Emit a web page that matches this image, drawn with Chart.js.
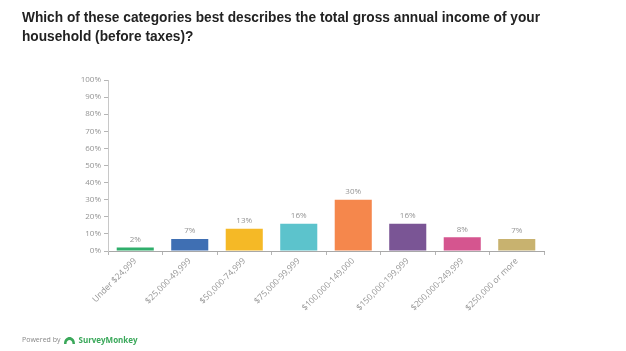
<!DOCTYPE html>
<html>
<head>
<meta charset="utf-8">
<script src="https://cdn.jsdelivr.net/npm/chart.js@4.4.1/dist/chart.umd.min.js"></script>
<style>
  html, body { margin: 0; padding: 0; background: #fff; }
  #wrap { position: relative; width: 626px; height: 351px; overflow: hidden; }
  #chart { position: absolute; left: 0; top: 0; }
  #title {
    position: absolute; left: 22px; top: 7px; width: 640px;
    font: bold 15px "Liberation Sans", Arial, sans-serif;
    line-height: 19px; color: #222;
    transform: scaleX(0.914); transform-origin: left top;
  }
  #footer {
    position: absolute; left: 22px; top: 334px;
    font: 7px "Open Sans", sans-serif; color: #888;
    display: flex; align-items: center;
  }
  #footer .brand { color: #3aa85a; font-weight: bold; font-size: 8px; margin-left: 2px; }
  #footer svg { margin-left: 3px; }
</style>
</head>
<body>
<div id="wrap">
  <canvas id="chart" width="626" height="351"></canvas>
  <div id="title">Which of these categories best describes the total gross annual income of your<br>household (before taxes)?</div>
  <div id="footer">Powered by
    <svg width="13" height="8" viewBox="0 0 13 8"><path d="M1 8 C1 3 4 1 6.5 1 C9 1 12 3 12 8 L9.5 8 C9.5 5 8 4 6.5 4 C5 4 3.5 5 3.5 8 Z" fill="#3aa85a"/></svg>
    <span class="brand">SurveyMonkey</span>
  </div>
</div>
<script>
const categories = [
  "Under $24,999",
  "$25,000-49,999",
  "$50,000-74,999",
  "$75,000-99,999",
  "$100,000-149,000",
  "$150,000-199,999",
  "$200,000-249,999",
  "$250,000 or more",
];
const percents = [2, 7, 13, 16, 30, 16, 8, 7];
const barColors = ["#2fae6b", "#3f6fb3", "#f5b926", "#5cc3cc", "#f5874c", "#7a5595", "#d5558f", "#c8b26f"];
const yTicks = [0, 10, 20, 30, 40, 50, 60, 70, 80, 90, 100];

const AXIS_GREY = "#b5b5b5";
const LABEL_GREY = "#949494";

const valueLabels = {
  id: "valueLabels",
  afterDatasetsDraw(chart) {
    const { ctx } = chart;
    const meta = chart.getDatasetMeta(0);
    ctx.save();
    ctx.font = '8px "Open Sans", sans-serif';
    ctx.fillStyle = LABEL_GREY;
    ctx.textAlign = "center";
    ctx.textBaseline = "bottom";
    meta.data.forEach((bar, i) => {
      ctx.fillText(`${percents[i]}%`, bar.x, bar.y - 4);
    });
    ctx.restore();
  },
};

new Chart(document.getElementById("chart"), {
  type: "bar",
  data: {
    labels: categories,
    datasets: [
      {
        data: percents,
        backgroundColor: barColors,
        borderWidth: 0,
        barPercentage: 0.68,
        categoryPercentage: 1,
      },
    ],
  },
  options: {
    responsive: false,
    animation: false,
    layout: { padding: { left: 0, top: 80, right: 82, bottom: 0 } },
    plugins: {
      legend: { display: false },
      tooltip: { enabled: false },
    },
    scales: {
      x: {
        grid: { drawOnChartArea: false, tickLength: 4, color: AXIS_GREY, offset: true },
        border: { color: "#a8a8a8" },
        ticks: {
          minRotation: 45,
          maxRotation: 45,
          autoSkip: false,
          padding: 1,
          color: LABEL_GREY,
          font: { family: "Open Sans", size: 8.5 },
        },
        afterFit: (scale) => { scale.height = 100; },
      },
      y: {
        min: 0,
        max: 100,
        afterBuildTicks: (scale) => { scale.ticks = yTicks.map((v) => ({ value: v })); },
        grid: { drawOnChartArea: false, tickLength: 4, color: AXIS_GREY },
        border: { color: "#c8c8c8" },
        ticks: {
          padding: 3,
          color: LABEL_GREY,
          font: { family: "Open Sans", size: 8 },
          callback: (v) => `${v}%`,
        },
        afterFit: (scale) => { scale.width = 108; },
      },
    },
  },
  plugins: [valueLabels],
});
</script>
</body>
</html>
